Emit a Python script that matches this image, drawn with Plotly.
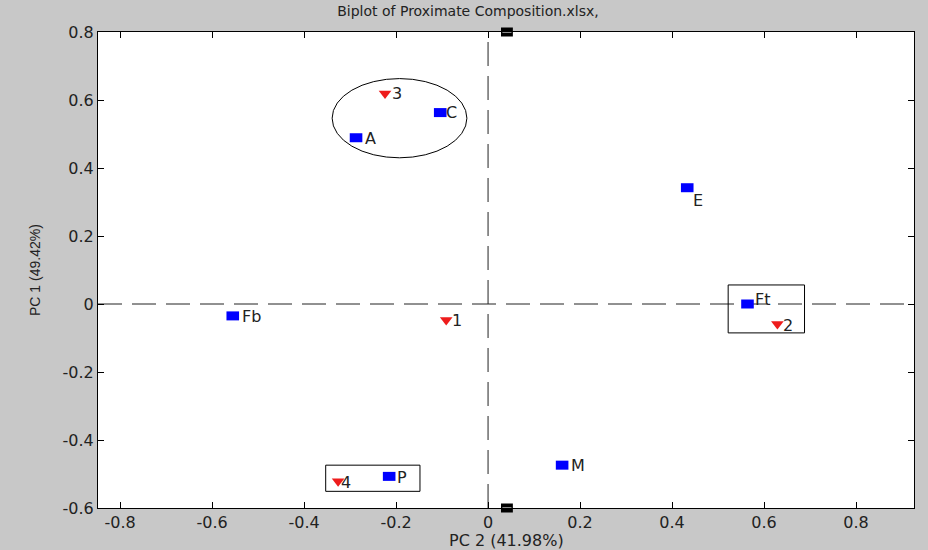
import plotly.graph_objects as go

# Variables (blue squares)
var_names = ["A", "C", "E", "Ft", "Fb", "M", "P"]
var_pc2 = [-0.287, -0.104, 0.433, 0.564, -0.555, 0.161, -0.215]
var_pc1 = [0.489, 0.563, 0.342, 0.0, -0.035, -0.474, -0.507]

# Observations (red triangles)
obs_names = ["1", "2", "3", "4"]
obs_pc2 = [-0.091, 0.629, -0.224, -0.326]
obs_pc1 = [-0.047, -0.059, 0.619, -0.521]

x_ticks = [-0.8, -0.6, -0.4, -0.2, 0, 0.2, 0.4, 0.6, 0.8]
y_ticks = [-0.6, -0.4, -0.2, 0, 0.2, 0.4, 0.6, 0.8]
x_range = [-0.848, 0.926]
y_range = [-0.6, 0.8]

title_text = "Biplot of Proximate Composition.xlsx,"
x_title = "PC 2 (41.98%)"
y_title = "PC 1 (49.42%)"

# label offsets in pixels (style only): right, down
var_dx = [8, 5, 5, 7, 8, 8, 7]
var_dy = [1, 0, 13, -5, 1, 0, 1]
obs_dx = [5, 5, 6, 2]
obs_dy = [1, 1, 0, 1]

HFONT = "DejaVu Sans, Liberation Sans, Arial"
TXT = "#222222"

fig = go.Figure()

# dashed axes through the origin
dash = dict(color="#222222", width=1, dash="24px,10px")
fig.add_trace(go.Scatter(x=[0, 0], y=y_range, mode="lines", line=dash,
                         hoverinfo="skip", showlegend=False))
fig.add_trace(go.Scatter(x=x_range, y=[0, 0], mode="lines", line=dash,
                         hoverinfo="skip", showlegend=False))

# blue rectangular markers (line-ew with thick stroke -> 13x9 rectangle)
fig.add_trace(go.Scatter(
    x=var_pc2, y=var_pc1, mode="markers", text=var_names,
    marker=dict(symbol="line-ew", size=9, color="#0000ff",
                line=dict(color="#0000ff", width=9)),
    showlegend=False))

fig.add_trace(go.Scatter(
    x=obs_pc2, y=obs_pc1, mode="markers", text=obs_names,
    marker=dict(symbol="triangle-down", size=11, color="#ee1c1c",
                line=dict(width=0)),
    showlegend=False))

# small black markers on the frame
fig.add_trace(go.Scatter(
    x=[0.041, 0.041], y=[0.8, -0.6], mode="markers",
    marker=dict(symbol="line-ew", size=8.5, color="black",
                line=dict(color="black", width=9)),
    cliponaxis=False, hoverinfo="skip", showlegend=False))
fig.add_trace(go.Scatter(
    x=[0.041, 0.041], y=[0.8, -0.6], mode="markers",
    marker=dict(symbol="line-ew", size=6.5, color="#bbbbbb",
                line=dict(color="#bbbbbb", width=1.5)),
    cliponaxis=False, hoverinfo="skip", showlegend=False))

# ellipse and boxes
fig.add_shape(type="circle", x0=-0.339, x1=-0.046, y0=0.430, y1=0.663,
              line=dict(color="black", width=1))
fig.add_shape(type="rect", x0=0.522, x1=0.688, y0=-0.085, y1=0.056,
              line=dict(color="black", width=1))
fig.add_shape(type="rect", x0=-0.353, x1=-0.148, y0=-0.551, y1=-0.474,
              line=dict(color="black", width=1))

# point labels
labels = []
for names, xs, ys, dxs, dys in [(var_names, var_pc2, var_pc1, var_dx, var_dy),
                                (obs_names, obs_pc2, obs_pc1, obs_dx, obs_dy)]:
    for n, xv, yv, dx, dy in zip(names, xs, ys, dxs, dys):
        labels.append(dict(text=n, x=xv, y=yv, xref="x", yref="y",
                           xanchor="left", yanchor="middle",
                           xshift=dx, yshift=-dy, showarrow=False, borderpad=0,
                           font=dict(family=HFONT, size=16, color=TXT)))

axis_common = dict(showgrid=False, zeroline=False, showline=True, linecolor="black",
                   linewidth=1, mirror="ticks", ticks="inside", ticklen=6,
                   tickcolor="black", automargin=False,
                   tickfont=dict(family=HFONT, size=16, color=TXT))

fig.update_layout(
    width=928, height=550,
    paper_bgcolor="#c8c8c8", plot_bgcolor="white",
    margin=dict(l=98, r=14, t=32, b=42, autoexpand=False),
    title=dict(text=title_text, x=468 / 928, xanchor="center",
               xref="container", yref="container", y=1 - 11 / 550, yanchor="middle",
               font=dict(family=HFONT, size=14, color=TXT)),
    xaxis=dict(range=x_range, tickvals=x_ticks,
               ticktext=[("%g" % v) for v in x_ticks], **axis_common),
    yaxis=dict(range=y_range, tickvals=y_ticks,
               ticktext=[("%g" % v) for v in y_ticks], **axis_common),
    annotations=labels + [
        dict(text=x_title, xref="paper", yref="paper", x=0.5, y=0,
             xanchor="center", yanchor="middle", yshift=-32, showarrow=False,
             font=dict(family=HFONT, size=16, color=TXT)),
        dict(text=y_title, xref="paper", yref="paper", x=0, y=0.5,
             xanchor="center", yanchor="middle", xshift=-63, textangle=-90,
             showarrow=False,
             font=dict(family="Liberation Sans, Arial", size=14, color=TXT)),
    ],
)

fig.write_html("out.html", config=dict(displayModeBar=False),
               post_script="document.body.style.margin='0';"
                           "document.body.style.background='#c8c8c8';")
